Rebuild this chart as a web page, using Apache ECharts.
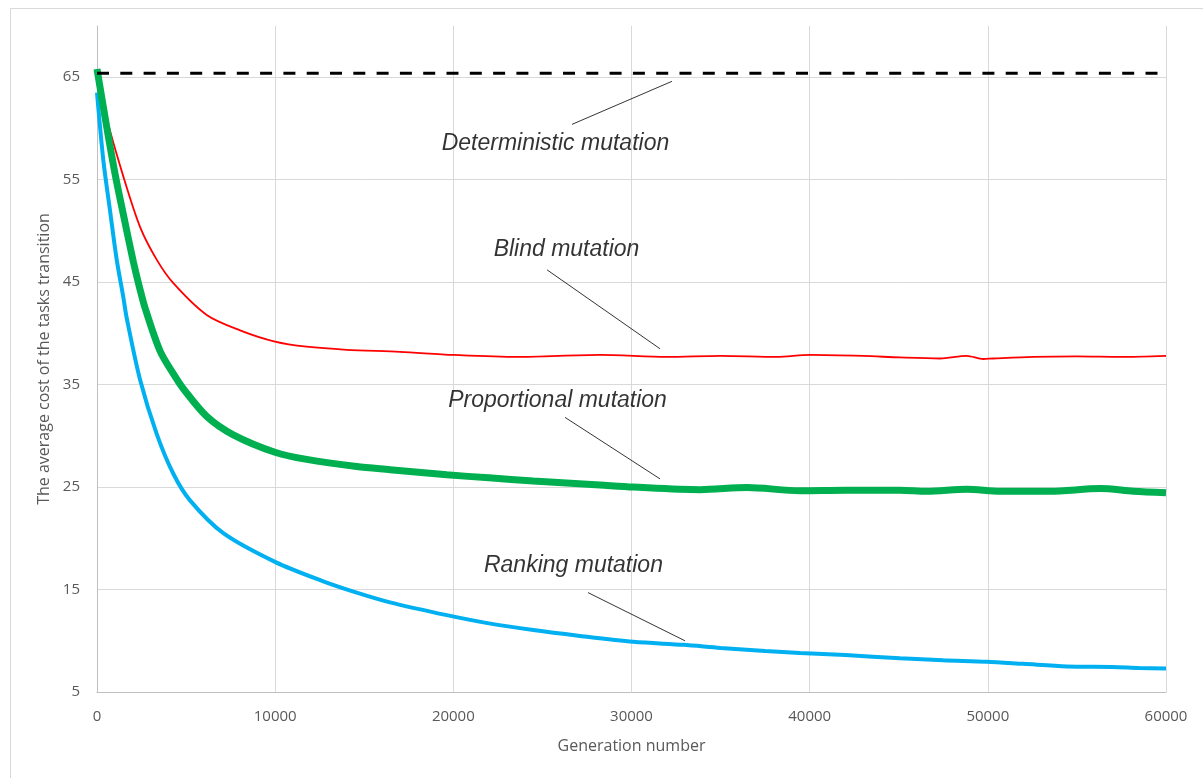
<!DOCTYPE html>
<html>
<head>
<meta charset="utf-8">
<script src="https://cdn.jsdelivr.net/npm/echarts@6/dist/echarts.min.js"></script>
<style>
html,body{margin:0;padding:0;background:#fff;}
#chart{width:1203px;height:778px;}
</style>
</head>
<body>
<div id="chart"></div>
<script>
// ---- data ----
const xTicks = [0, 10000, 20000, 30000, 40000, 50000, 60000];
const yTicks = [5, 15, 25, 35, 45, 55, 65];

const deterministicX = [0, 60000];
const deterministicY = [65.4, 65.4];

const blindX = [0, 450, 1480, 2414, 3350, 4285, 6157, 8027, 9990, 11770, 14015, 17000, 20000, 23560, 28230, 31980, 35000, 38150, 40000, 43000, 45070, 47320, 48820, 49740, 50300, 52540, 55000, 57500, 60000];
const blindY = [65.5, 61.6, 55.3, 50.4, 47.2, 44.9, 41.8, 40.3, 39.2, 38.7, 38.4, 38.2, 37.9, 37.7, 37.9, 37.7, 37.8, 37.7, 37.9, 37.8, 37.65, 37.55, 37.8, 37.5, 37.55, 37.7, 37.75, 37.7, 37.8];

const proportionalX = [0, 540, 1010, 1480, 2040, 2414, 2694, 3536, 4380, 4845, 6157, 7650, 9990, 11770, 14575, 16445, 19630, 22000, 24480, 28230, 30100, 33850, 36470, 39460, 42000, 45070, 46570, 48820, 50690, 53490, 56300, 58170, 60000];
const proportionalY = [65.8, 60.2, 55.6, 51.6, 47.0, 44.3, 42.5, 38.3, 35.8, 34.6, 31.9, 30.1, 28.4, 27.7, 27.0, 26.7, 26.2, 25.9, 25.6, 25.2, 25.0, 24.75, 24.95, 24.65, 24.7, 24.7, 24.6, 24.8, 24.6, 24.6, 24.85, 24.6, 24.45];

const rankingX = [0, 355, 730, 1105, 1480, 1667, 2414, 3350, 4285, 5220, 7090, 9990, 12700, 14575, 16445, 19630, 22000, 24490, 27000, 30100, 32910, 35000, 37500, 39460, 42000, 45070, 47500, 49940, 52000, 54430, 57000, 58500, 60000];
const rankingY = [63.5, 56.9, 52.0, 47.2, 43.5, 41.5, 35.5, 30.2, 26.3, 23.7, 20.5, 17.7, 15.8, 14.7, 13.75, 12.5, 11.7, 11.05, 10.5, 9.9, 9.6, 9.3, 9.0, 8.8, 8.6, 8.3, 8.1, 7.96, 7.75, 7.5, 7.45, 7.35, 7.3];

// annotation labels and leader lines (in data units)
const annoText = ['Deterministic mutation', 'Blind mutation', 'Proportional mutation', 'Ranking mutation'];
const annoX = [25760, 26380, 25880, 26770];
const annoY = [58.5, 48.1, 33.4, 17.3];
const leaderFromX = [26660, 25260, 26270, 27560];
const leaderFromY = [60.4, 46.2, 31.8, 14.7];
const leaderToX = [32270, 31600, 31600, 33000];
const leaderToY = [64.6, 38.5, 25.8, 10.0];

const zip = (xs, ys) => xs.map((x, i) => [x, ys[i]]);

const chart = echarts.init(document.getElementById('chart'), null, {renderer: 'canvas'});
const axisFont = {fontFamily: 'Open Sans', fontSize: 15, color: '#595959'};

const option = {
  animation: false,
  backgroundColor: '#fff',
  graphic: [{
    type: 'rect', left: 8, top: 6, z: -10,
    shape: {width: 1300, height: 900},
    style: {fill: 'none', stroke: '#d9d9d9', lineWidth: 1}
  }],
  grid: {left: 97, right: 37, top: 26, bottom: 86, containLabel: false},
  xAxis: {
    type: 'value', min: xTicks[0], max: xTicks[xTicks.length - 1], interval: xTicks[1] - xTicks[0],
    name: 'Generation number', nameLocation: 'middle', nameGap: 46,
    nameTextStyle: {fontFamily: 'Open Sans', fontSize: 16, color: '#595959'},
    axisLine: {show: true, lineStyle: {color: '#bfbfbf', width: 1}},
    axisTick: {show: false},
    axisLabel: Object.assign({margin: 17, formatter: v => String(v)}, axisFont),
    splitLine: {show: true, showMinLine: false, lineStyle: {color: '#d9d9d9', width: 1}}
  },
  yAxis: {
    type: 'value', min: yTicks[0], max: 70, interval: yTicks[1] - yTicks[0],
    name: 'The average cost of the tasks transition', nameLocation: 'middle', nameGap: 44,
    nameTextStyle: {fontFamily: 'Open Sans', fontSize: 16, color: '#595959'},
    axisLine: {show: true, lineStyle: {color: '#bfbfbf', width: 1}},
    axisTick: {show: false},
    axisLabel: Object.assign({margin: 17, showMaxLabel: false, formatter: v => String(v)}, axisFont),
    splitLine: {show: true, showMaxLine: false, showMinLine: false, lineStyle: {color: '#d9d9d9', width: 1}}
  },
  series: [
    {
      name: 'Blind mutation', type: 'line', data: zip(blindX, blindY),
      showSymbol: false, smooth: 0.3, lineStyle: {color: '#ff0000', width: 1.8}, z: 2
    },
    {
      name: 'Ranking mutation', type: 'line', data: zip(rankingX, rankingY),
      showSymbol: false, smooth: 0.3, lineStyle: {color: '#00b0f0', width: 4}, z: 3
    },
    {
      name: 'Proportional mutation', type: 'line', data: zip(proportionalX, proportionalY),
      showSymbol: false, smooth: 0.3, lineStyle: {color: '#00b050', width: 7}, z: 4
    },
    {
      name: 'Deterministic mutation', type: 'line', data: zip(deterministicX, deterministicY),
      showSymbol: false, lineStyle: {color: '#000000', width: 3, type: [12, 11.3]}, z: 5
    },
    {
      name: 'leaders', type: 'line', data: [], z: 6,
      markLine: {
        silent: true, symbol: ['none', 'none'],
        lineStyle: {color: '#000000', width: 0.8, type: 'solid'},
        label: {show: false},
        data: annoText.map((t, i) => [
          {coord: [leaderFromX[i], leaderFromY[i]]},
          {coord: [leaderToX[i], leaderToY[i]]}
        ])
      }
    },
    {
      name: 'labels', type: 'scatter', symbolSize: 1, z: 7, silent: true,
      itemStyle: {color: 'rgba(0,0,0,0)'},
      data: annoText.map((t, i) => ({value: [annoX[i], annoY[i]], name: t})),
      label: {
        show: true, position: [0, 0], align: 'center', verticalAlign: 'middle',
        formatter: p => p.name,
        fontFamily: 'Liberation Sans, Arial', fontStyle: 'italic', fontSize: 23, color: '#000000'
      }
    }
  ]
};
chart.setOption(option);
</script>
</body>
</html>
